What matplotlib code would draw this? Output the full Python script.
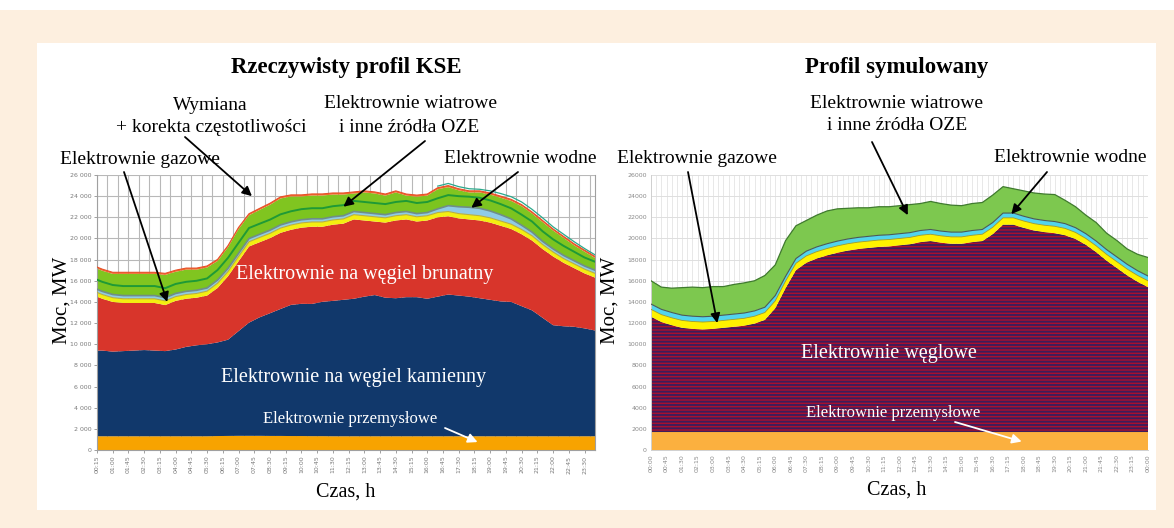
import numpy as np
import matplotlib
matplotlib.use('Agg')
import matplotlib.pyplot as plt
from matplotlib.patches import Rectangle

# ---------------- DATA ----------------
# left chart: "Rzeczywisty profil KSE" (half-hour readings, MW)
t_L = np.concatenate([[0.25], np.arange(0.5, 24.01, 0.5)])
przem_L = [1300, 1300, 1300, 1300, 1300, 1300, 1300, 1300, 1300, 1300, 1300, 1300,
           1320, 1330, 1340, 1340, 1340, 1330, 1330, 1320, 1320, 1310, 1310,
           1300, 1300, 1300, 1300, 1300, 1300, 1300, 1300, 1300, 1300, 1300, 1300, 1300,
           1300, 1300, 1300, 1300, 1300, 1300, 1300, 1300, 1300, 1300, 1300, 1300, 1300]
kamienny_L = [8100, 8100, 8000, 8050, 8100, 8150, 8100, 8050, 8200, 8450,
              8600, 8700, 8850, 9100, 9900, 10700, 11200, 11600, 12000, 12400,
              12500, 12500, 12700, 12800, 12900, 13000, 13200, 13350, 13100, 13050,
              13150, 13150, 13000, 13200, 13400, 13300, 13200, 13050, 12900, 12750,
              12700, 12300, 11900, 11200, 10500, 10400, 10350, 10200, 10000]
brunatny_L = [5100, 4900, 4700, 4550, 4500, 4450, 4500, 4350, 4600, 4550,
              4500, 4600, 5150, 6000, 6600, 7200, 7100, 7100, 7200, 7100,
              7200, 7300, 7100, 7200, 7200, 7500, 7200, 6950, 7100, 7350,
              7350, 7150, 7400, 7500, 7400, 7300, 7300, 7350, 7300, 7150,
              6900, 6800, 6600, 6500, 6500, 6000, 5550, 5200, 5000]
gazowe_L = [400, 400, 400, 400, 400, 400, 400, 400, 400, 400, 400, 420,
            450, 450, 450, 450, 450, 450, 450, 450, 450, 450, 450, 450, 450, 450,
            450, 450, 450, 450, 450, 450, 450, 450, 450, 450, 450, 450, 450, 450,
            450, 450, 450, 430, 420, 400, 400, 400, 400]
wodne_L = [300, 300, 300, 300, 300, 300, 300, 300, 300, 300, 300, 300, 300, 300,
           300, 300, 300, 300, 300, 300, 300, 300, 300, 300, 300, 300, 300, 300,
           300, 300, 300, 300, 300, 350, 550, 650, 700, 700, 650, 600, 500, 400,
           350, 300, 300, 300, 300, 300, 300]
oze_L = [900, 900, 900, 900, 900, 900, 900, 900, 900, 900, 900, 900, 950,
         1000, 1000, 1000, 1000, 1000, 1000, 1000, 1000, 1000, 1000, 1000, 1000,
         1000, 1000, 1000, 1000, 1000, 1000, 1000, 1000, 1000, 1000, 1000, 1000,
         1000, 1000, 1000, 1000, 1000, 1000, 950, 900, 900, 850, 800, 800]
inne_L = [1050, 1050, 1050, 1150, 1150, 1150, 1150, 1250, 1150, 1150, 1050, 1030,
          850, 1000, 1300, 1200, 1300, 1400, 1500, 1400, 1200, 1200, 1200, 1100,
          1000, 700, 900, 900, 800, 900, 500, 600, 600, 850, 750, 550, 400, 500,
          550, 600, 700, 800, 750, 870, 830, 750, 600, 550, 350]
wymiana_L = [150, 150, 150, 150, 150, 150, 150, 150, 150, 150, 150, 150, 150, 150,
             150, 150, 150, 150, 150, 150, 150, 150, 150, 150, 150, 150, 150, 150,
             150, 150, 150, 150, 150, 150, 150, 150, 150, 150, 150, 150, 150, 150,
             150, 150, 150, 150, 150, 150, 150]
t_zap_L = [16.5, 17, 17.5, 18, 18.5, 19, 19.5, 20, 20.5, 21, 21.5, 22, 22.5, 23, 23.5, 24]
zap_L = [24950, 25200, 24900, 24700, 24650, 24500, 24250, 23950, 23450, 22750,
         21950, 21100, 20400, 19700, 19050, 18450]

# right chart: "Profil symulowany"
t_R = np.arange(0, 24.01, 0.5)
przem_R = [1700, 1700, 1700, 1700, 1700, 1700, 1700, 1700, 1700, 1700,
           1700, 1700, 1700, 1700, 1700, 1700, 1700, 1700, 1700, 1700, 1700, 1700,
           1700, 1700, 1700, 1700, 1700, 1700, 1700, 1700, 1700, 1700, 1700, 1700,
           1700, 1700, 1700, 1700, 1700, 1700, 1700, 1700, 1700, 1700, 1700, 1700,
           1700, 1700, 1700]
weglowe_R = [10900, 10400, 10100, 9850, 9750, 9700, 9750, 9850, 9950, 10050,
             10250, 10600, 11700, 13600, 15300, 16000, 16400, 16700, 16950, 17150,
             17300, 17400, 17500, 17550, 17650, 17750, 17950, 18050, 17900, 17800,
             17800, 17950, 18050, 18700, 19600, 19600, 19300, 19050, 18900, 18800,
             18600, 18250, 17700, 17000, 16200, 15500, 14800, 14200, 13700]
gazowe_R = [700, 700, 700, 700, 700, 700, 700, 700, 700, 700, 700, 700, 700, 680,
            650, 650, 650, 650, 650, 650, 650, 650, 650, 650, 650, 650, 650, 650,
            650, 650, 650, 650, 650, 650, 650, 650, 650, 650, 650, 650, 650,
            620, 600, 600, 600, 600, 600, 600, 600]
wodne_R = [500, 500, 500, 500, 500, 500, 500, 500, 500, 500, 500, 500, 500,
           450, 450, 450, 450, 450, 450, 450, 450, 450, 450, 450, 450, 450, 450,
           450, 450, 450, 450, 450, 450, 450, 450, 450, 450, 450, 450, 450, 450,
           450, 450, 450, 450, 450, 450, 450, 450]
oze_R = [2200, 2100, 2300, 2600, 2750, 2750, 2800, 2700, 2800, 2850,
         2850, 3000, 2900, 3370, 3100, 2900, 3000, 3100, 3050, 2900,
         2800, 2700, 2700, 2650, 2650, 2650, 2550, 2650, 2600, 2550,
         2500, 2550, 2550, 2600, 2500, 2300, 2400, 2450, 2500, 2550,
         2200, 1980, 1750, 1750, 1550, 1550, 1450, 1550, 1750]

x_labels_L = ['00:15', '01:00', '01:45', '02:30', '03:15', '04:00', '04:45', '05:30',
              '06:15', '07:00', '07:45', '08:30', '09:15', '10:00', '10:45', '11:30',
              '12:15', '13:00', '13:45', '14:30', '15:15', '16:00', '16:45', '17:30',
              '18:15', '19:00', '19:45', '20:30', '21:15', '22:00', '22:45', '23:30']
x_labels_R = ['00:00', '00:45', '01:30', '02:15', '03:00', '03:45', '04:30', '05:15',
              '06:00', '06:45', '07:30', '08:15', '09:00', '09:45', '10:30', '11:15',
              '12:00', '12:45', '13:30', '14:15', '15:00', '15:45', '16:30', '17:15',
              '18:00', '18:45', '19:30', '20:15', '21:00', '21:45', '22:30', '23:15', '00:00']
y_ticks = [0, 2000, 4000, 6000, 8000, 10000, 12000, 14000, 16000, 18000, 20000,
           22000, 24000, 26000]
y_labels_L = ['0', '2 000', '4 000', '6 000', '8 000', '10 000', '12 000', '14 000',
              '16 000', '18 000', '20 000', '22 000', '24 000', '26 000']
y_labels_R = ['0', '2000', '4000', '6000', '8000', '10000', '12000', '14000',
              '16000', '18000', '20000', '22000', '24000', '26000']

# ---------------- FIGURE ----------------
W, H = 1174, 528
SERIF = 'Liberation Serif'
plt.rcParams['hatch.linewidth'] = 1.35
fig = plt.figure(figsize=(W / 100, H / 100), dpi=100)
fig.patch.set_facecolor('#fdefdf')
fig.patches.append(Rectangle((37 / W, 1 - 510 / H), (1156 - 37) / W, (510 - 43) / H,
                             transform=fig.transFigure, facecolor='white',
                             edgecolor='none', zorder=-10))
fig.patches.append(Rectangle((0, 1 - 10 / H), 1, 10 / H, transform=fig.transFigure,
                             facecolor='white', edgecolor='none', zorder=-10))


def px(x, y):
    return (x / W, 1 - y / H)


def hm(s, last=False):
    h, m = s.split(':')
    v = int(h) + int(m) / 60
    return 24.0 if (last and v == 0) else v


def stack(ax, t, layers):
    base = np.zeros(len(t))
    for vals, fc, ec, lw, hatch in layers:
        top = base + np.asarray(vals, float)
        if hatch:
            ax.fill_between(t, base, top, facecolor=fc, edgecolor=ec,
                            linewidth=0, hatch=hatch, zorder=2)
        else:
            ax.fill_between(t, base, top, facecolor=fc, edgecolor='none',
                            linewidth=0, zorder=2)
            if ec:
                ax.plot(t, top, color=ec, lw=lw, zorder=3)
        base = top
    return base


ax1 = fig.add_axes([97 / W, 1 - 450 / H, 498 / W, 275 / H], zorder=2)
ax2 = fig.add_axes([651 / W, 1 - 450 / H, 497 / W, 275 / H], zorder=2)

# left chart
for x in np.arange(0.25, 24.01, 0.5):
    ax1.axvline(x, color='#b8b8b8', lw=0.8, zorder=1)
for y in y_ticks[1:]:
    ax1.axhline(y, color='#b8b8b8', lw=0.8, zorder=1)
stack(ax1, t_L, [
    (przem_L, '#f7a300', None, 0, None),
    (kamienny_L, '#11386b', None, 0, None),
    (brunatny_L, '#d8352b', None, 0, None),
    (gazowe_L, '#f4ee10', '#b8b040', 0.8, None),
    (wodne_L, '#8fcbe6', '#6f8e88', 1.2, None),
    (oze_L, '#7cc41f', '#1f9a36', 1.4, None),
    (inne_L, '#80c520', None, 0, None),
    (wymiana_L, '#ef6a2c', '#e8502a', 0.8, None),
])
ax1.plot(t_zap_L, zap_L, color='#2aa88a', lw=0.9, zorder=4)
ax1.set_xlim(0.25, 24)
ax1.set_ylim(0, 26000)
ax1.set_xticks([hm(s) for s in x_labels_L])
ax1.set_xticklabels(x_labels_L, rotation=90, fontsize=4.5, color='#7a7a7a')
ax1.set_yticks(y_ticks)
ax1.set_yticklabels(y_labels_L, fontsize=4.5, color='#7a7a7a')
ax1.tick_params(axis='x', length=2, width=0.6, color='#909090', pad=2)
ax1.tick_params(axis='y', length=2, width=0.6, color='#909090', pad=2)
ax1.spines['top'].set_visible(False)
for s in ['left', 'bottom', 'right']:
    ax1.spines[s].set_color('#a0a0a0')
    ax1.spines[s].set_linewidth(0.8)

# right chart
for x in np.arange(0, 24.01, 0.25):
    ax2.axvline(x, color='#e4e4e4', lw=0.6, zorder=1)
for y in y_ticks[1:]:
    ax2.axhline(y, color='#dedede', lw=0.7, zorder=1)
stack(ax2, t_R, [
    (przem_R, '#fbb03f', None, 0, None),
    (weglowe_R, '#a8102e', '#3c1d5c', 0, '-----'),
    (gazowe_R, '#fff200', '#a09a20', 0.6, None),
    (wodne_R, '#52d4ee', '#4a5a58', 0.8, None),
    (oze_R, '#7dc84f', '#3f7a2e', 0.9, None),
])
ax2.set_xlim(0, 24)
ax2.set_ylim(0, 26000)
ax2.set_xticks([hm(s, i == len(x_labels_R) - 1) for i, s in enumerate(x_labels_R)])
ax2.set_xticklabels(x_labels_R, rotation=90, fontsize=4.5, color='#8a8a8a')
ax2.set_yticks(y_ticks)
ax2.set_yticklabels(y_labels_R, fontsize=4.5, color='#8a8a8a')
ax2.tick_params(axis='both', length=0, pad=3)
for s in ['top', 'right']:
    ax2.spines[s].set_visible(False)
for s in ['left', 'bottom']:
    ax2.spines[s].set_color('#d0d0d0')
    ax2.spines[s].set_linewidth(0.7)

# ---------------- TEXT ----------------
def ftext(x, y, s, size=14, color='black', weight='normal', rot=0):
    fig.text(*px(x, y), s, ha='center', va='center', fontsize=size, color=color,
             fontweight=weight, family=SERIF, rotation=rot, zorder=10)


ftext(346, 68, 'Rzeczywisty profil KSE', 16.5, weight='bold')
ftext(897, 68, 'Profil symulowany', 16.5, weight='bold')
ftext(210, 106, 'Wymiana', 14)
ftext(211, 128, '+ korekta częstotliwości', 14)
ftext(410, 104, 'Elektrownie wiatrowe', 14)
ftext(409, 127, 'i inne źródła OZE', 14)
ftext(140, 160, 'Elektrownie gazowe', 14)
ftext(520, 158, 'Elektrownie wodne', 14)
ftext(897, 103, 'Elektrownie wiatrowe', 14)
ftext(897, 126, 'i inne źródła OZE', 14)
ftext(697, 158, 'Elektrownie gazowe', 14)
ftext(1070, 157, 'Elektrownie wodne', 14)
ftext(62, 300, 'Moc, MW', 15, rot=90)
ftext(346, 492, 'Czas, h', 14.5)
ftext(610, 300, 'Moc, MW', 15, rot=90)
ftext(897, 490, 'Czas, h', 14.5)


def atext(ax, x, y, s, size, color='white'):
    ax.text(x, y, s, ha='center', va='center', fontsize=size, color=color,
            family=SERIF, zorder=8)


atext(ax1, 13.0, 16600, 'Elektrownie na węgiel brunatny', 14.5)
atext(ax1, 12.5, 6900, 'Elektrownie na węgiel kamienny', 14.5)
atext(ax1, 12.3, 2950, 'Elektrownie przemysłowe', 12)
atext(ax2, 11.5, 9100, 'Elektrownie węglowe', 14.5)
atext(ax2, 11.7, 3500, 'Elektrownie przemysłowe', 12)


def arrow(ax, head, tail_px, color='black'):
    ax.annotate('', xy=head, xycoords='data',
                xytext=(tail_px[0], H - tail_px[1]), textcoords='figure pixels',
                arrowprops=dict(arrowstyle='-|>', color=color, lw=1.3,
                                mutation_scale=14, shrinkA=0, shrinkB=0),
                annotation_clip=False, zorder=9)


arrow(ax1, (3.6, 14000), (124, 172))
arrow(ax1, (7.64, 24000), (185, 137))
arrow(ax1, (12.0, 23000), (425, 141))
arrow(ax1, (18.1, 22900), (518, 172))
arrow(ax1, (18.4, 750), (445, 428), color='white')

arrow(ax2, (3.2, 12000), (688, 172))
arrow(ax2, (12.4, 22200), (872, 142))
arrow(ax2, (17.4, 22300), (1047, 172))
arrow(ax2, (17.9, 800), (955, 422), color='white')

fig.savefig('out.png', dpi=100, facecolor=fig.get_facecolor())
